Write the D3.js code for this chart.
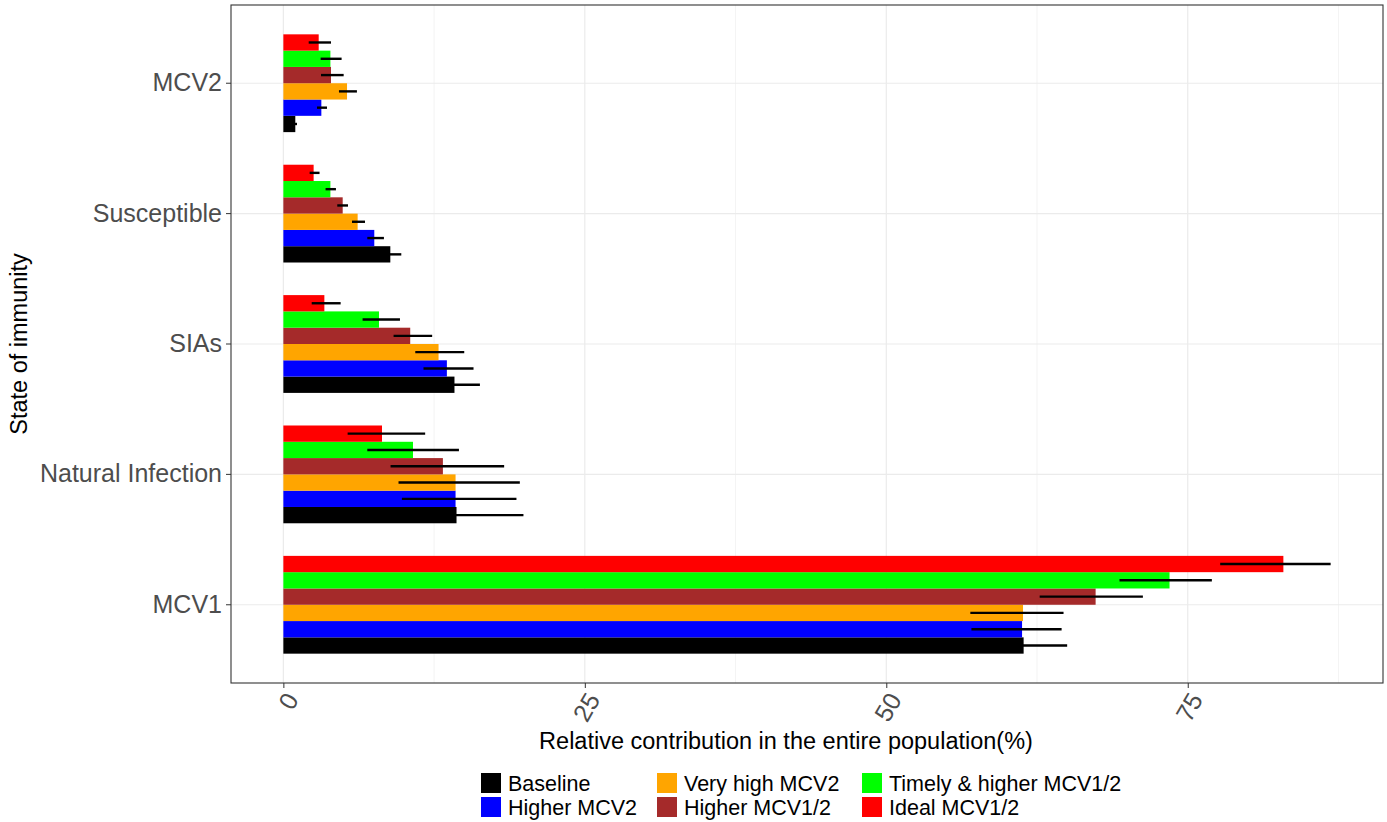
<!DOCTYPE html>
<html>
<head>
<meta charset="utf-8">
<script src="https://cdn.jsdelivr.net/npm/d3@7"></script>
<style>
  body { margin: 0; background: #fff; }
  text { font-family: "Liberation Sans", Arial, sans-serif; }
</style>
</head>
<body>
<svg width="1387" height="822"></svg>
<script>
// categories (top to bottom) and scenarios (legend order)
const categories = ["MCV2", "Susceptible", "SIAs", "Natural Infection", "MCV1"];
const scenarios = ["Baseline", "Higher MCV2", "Very high MCV2", "Higher MCV1/2", "Timely & higher MCV1/2", "Ideal MCV1/2"];
const scenarioColors = ["#000000", "#0000ff", "#ffa500", "#a52a2a", "#00ff00", "#ff0000"];
const xTicks = [0, 25, 50, 75];

// mean, lower and upper values per scenario, in the order of categories
const meanValues = [
  [0.99, 8.87, 14.19, 14.36, 61.39],
  [3.15, 7.54, 13.56, 14.28, 61.26],
  [5.28, 6.16, 12.87, 14.28, 61.34],
  [3.95, 4.92, 10.52, 13.23, 67.36],
  [3.90, 3.90, 7.93, 10.75, 73.49],
  [2.93, 2.51, 3.40, 8.18, 82.93]
];
const lowerValues = [
  [0.85, 8.60, 12.00, 9.50, 57.50],
  [2.79, 6.96, 11.62, 9.83, 57.06],
  [4.61, 5.69, 10.94, 9.55, 56.97],
  [3.12, 4.47, 9.14, 8.89, 62.72],
  [3.09, 3.50, 6.57, 6.96, 69.34],
  [2.10, 2.18, 2.35, 5.33, 77.69]
];
const upperValues = [
  [1.13, 9.78, 16.30, 19.91, 65.00],
  [3.62, 8.34, 15.77, 19.33, 64.54],
  [6.10, 6.77, 15.00, 19.61, 64.70],
  [5.00, 5.36, 12.34, 18.31, 71.28],
  [4.83, 4.36, 9.67, 14.56, 77.00],
  [3.95, 3.00, 4.75, 11.76, 86.85]
];

// flatten into rows
const rows = [];
scenarios.forEach((s, i) => {
  categories.forEach((c, j) => {
    rows.push({scenario: s, category: c, value: meanValues[i][j],
               lo: lowerValues[i][j], hi: upperValues[i][j], color: scenarioColors[i]});
  });
});

const panel = {left: 231, top: 5, right: 1383, bottom: 683};
const svg = d3.select("svg");

// scales
const maxHi = d3.max(rows, d => d.hi);
const pad = maxHi * 0.05;
const x = d3.scaleLinear()
  .domain([-pad, maxHi + pad])
  .range([panel.left, panel.right]);

const y = d3.scaleBand()
  .domain(categories)
  .range([panel.top, panel.bottom])
  .paddingInner(0.25)
  .paddingOuter(0.225);

// Ideal on top, Baseline at bottom within each group
const ySub = d3.scaleBand()
  .domain(scenarios.slice().reverse())
  .range([0, y.bandwidth()]);

// grid lines
const g = svg.append("g");
const minorTicks = [12.5, 37.5, 62.5, 87.5];
g.selectAll(".minor").data(minorTicks).join("line")
  .attr("x1", d => x(d)).attr("x2", d => x(d))
  .attr("y1", panel.top).attr("y2", panel.bottom)
  .attr("stroke", "#ebebeb").attr("stroke-width", 0.6);
g.selectAll(".major").data(xTicks).join("line")
  .attr("x1", d => x(d)).attr("x2", d => x(d))
  .attr("y1", panel.top).attr("y2", panel.bottom)
  .attr("stroke", "#ebebeb").attr("stroke-width", 1.2);
g.selectAll(".hmajor").data(categories).join("line")
  .attr("x1", panel.left).attr("x2", panel.right)
  .attr("y1", d => y(d) + y.bandwidth() / 2).attr("y2", d => y(d) + y.bandwidth() / 2)
  .attr("stroke", "#ebebeb").attr("stroke-width", 1.2);

// bars
svg.append("g").selectAll("rect").data(rows).join("rect")
  .attr("x", x(0))
  .attr("y", d => y(d.category) + ySub(d.scenario))
  .attr("width", d => x(d.value) - x(0))
  .attr("height", ySub.bandwidth())
  .attr("fill", d => d.color);

// error bars
svg.append("g").selectAll("line").data(rows).join("line")
  .attr("x1", d => x(d.lo))
  .attr("x2", d => x(d.hi))
  .attr("y1", d => y(d.category) + ySub(d.scenario) + ySub.bandwidth() / 2)
  .attr("y2", d => y(d.category) + ySub(d.scenario) + ySub.bandwidth() / 2)
  .attr("stroke", "black")
  .attr("stroke-width", 2.4);

// panel border
svg.append("rect")
  .attr("x", panel.left).attr("y", panel.top)
  .attr("width", panel.right - panel.left).attr("height", panel.bottom - panel.top)
  .attr("fill", "none").attr("stroke", "#333").attr("stroke-width", 1.1);

// x axis
const xAxis = svg.append("g")
  .attr("transform", `translate(0, ${panel.bottom})`)
  .call(d3.axisBottom(x).tickValues(xTicks).tickSize(5).tickSizeOuter(0));
xAxis.select(".domain").remove();
xAxis.selectAll(".tick line").attr("stroke", "#333");
xAxis.selectAll(".tick text")
  .attr("font-size", "25px")
  .attr("fill", "#4d4d4d")
  .attr("text-anchor", "end")
  .attr("dy", "0.35em")
  .attr("transform", "translate(8, 12) rotate(-60)")
  .attr("x", 0).attr("y", 0);

// y axis
const yAxis = svg.append("g")
  .attr("transform", `translate(${panel.left}, 0)`)
  .call(d3.axisLeft(y).tickSize(5).tickSizeOuter(0));
yAxis.select(".domain").remove();
yAxis.selectAll(".tick line").attr("stroke", "#333");
yAxis.selectAll(".tick text")
  .attr("font-size", "25px")
  .attr("fill", "#4d4d4d")
  .attr("x", -9);

// axis titles
svg.append("text")
  .attr("x", 786).attr("y", 749)
  .attr("text-anchor", "middle")
  .attr("font-size", "23.5px")
  .text("Relative contribution in the entire population(%)");

svg.append("text")
  .attr("transform", `translate(27, ${(panel.top + panel.bottom) / 2}) rotate(-90)`)
  .attr("text-anchor", "middle")
  .attr("font-size", "23.5px")
  .text("State of immunity");

// legend: 3 columns x 2 rows, filled by column
const legendCols = [481, 657, 862];
const legendRows = [773, 797];
const legend = svg.append("g").selectAll("g").data(scenarios).join("g")
  .attr("transform", (d, i) => `translate(${legendCols[Math.floor(i / 2)]}, ${legendRows[i % 2]})`);
legend.append("rect")
  .attr("width", 20).attr("height", 20)
  .attr("fill", (d, i) => scenarioColors[i]);
legend.append("text")
  .attr("x", 27).attr("y", 10).attr("dy", "0.36em")
  .attr("font-size", "21.5px")
  .text(d => d);
</script>
</body>
</html>
